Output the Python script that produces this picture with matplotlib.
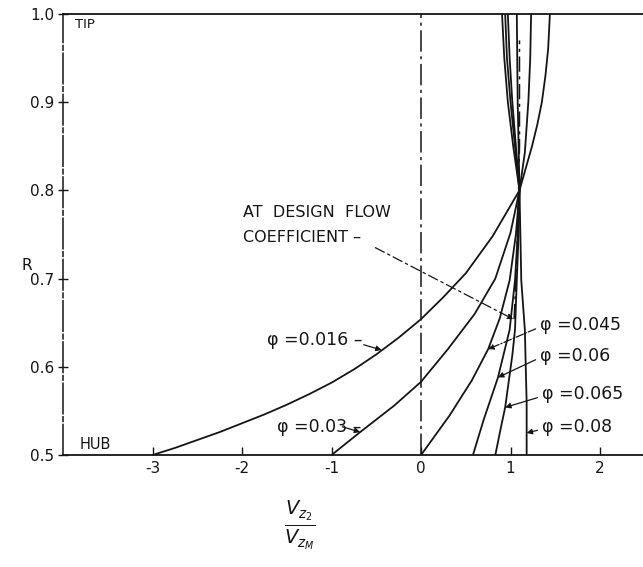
import matplotlib
matplotlib.use("Agg")
import matplotlib.pyplot as plt

plt.rcParams['font.family'] = ['DejaVu Sans']
plt.rcParams['mathtext.fontset'] = 'dejavusans'
INK = '#151515'

# velocity ratio Vz2/VzM against radius ratio R, hub (0.5) to tip (1.0)
r_016 = [0.500, 0.508, 0.517, 0.526, 0.536, 0.546, 0.557, 0.569, 0.582, 0.597, 0.614,
         0.633, 0.654, 0.679, 0.706, 0.748, 0.800, 0.825, 0.850, 0.875, 0.900, 0.930,
         0.960, 1.000]
v_016 = [-3.00, -2.75, -2.50, -2.25, -2.00, -1.75, -1.50, -1.25, -1.00, -0.75, -0.50,
         -0.25, 0.00, 0.25, 0.50, 0.80, 1.10, 1.17, 1.24, 1.30, 1.35, 1.39,
         1.42, 1.44]

r_030 = [0.500, 0.526, 0.556, 0.583, 0.620, 0.660, 0.700, 0.752, 0.800, 0.843, 0.902, 0.950, 1.000]
v_030 = [-1.00, -0.68, -0.30, 0.00, 0.30, 0.60, 0.83, 1.00, 1.10, 1.16, 1.20, 1.22, 1.23]

r_045 = [0.500, 0.545, 0.585, 0.620, 0.655, 0.698, 0.750, 0.800, 0.850, 0.900, 0.950, 1.000]
v_045 = [0.00, 0.32, 0.57, 0.75, 0.88, 0.99, 1.06, 1.10, 1.09, 1.08, 1.075, 1.07]

r_060 = [0.500, 0.540, 0.588, 0.613, 0.642, 0.698, 0.750, 0.800, 0.850, 0.900, 0.950, 1.000]
v_060 = [0.58, 0.70, 0.86, 0.92, 0.99, 1.05, 1.08, 1.10, 1.06, 1.02, 0.99, 0.97]

r_065 = [0.500, 0.530, 0.554, 0.613, 0.642, 0.698, 0.750, 0.800, 0.850, 0.900, 0.950, 1.000]
v_065 = [0.83, 0.89, 0.94, 1.02, 1.05, 1.07, 1.09, 1.10, 1.05, 1.00, 0.96, 0.94]

r_080 = [0.500, 0.560, 0.600, 0.642, 0.698, 0.750, 0.800, 0.850, 0.900, 0.950, 1.000]
v_080 = [1.18, 1.18, 1.17, 1.16, 1.12, 1.11, 1.10, 1.03, 0.97, 0.93, 0.905]

# design flow coefficient curve (dash-dot)
r_design = [0.654, 0.720, 0.800, 0.850, 0.900, 0.970]
v_design = [1.04, 1.07, 1.09, 1.10, 1.10, 1.10]

curves = [(v_016, r_016), (v_030, r_030), (v_045, r_045),
          (v_060, r_060), (v_065, r_065), (v_080, r_080)]

# label text, text position, arrow tip, leader style
phi_labels = [
    ('\u03c6 =0.016 \u2013', (-1.72, 0.630), (-0.44, 0.619), '-'),
    ('\u03c6 =0.03 \u2013', (-1.61, 0.532), (-0.68, 0.526), '-'),
    ('\u03c6 =0.045', (1.33, 0.647), (0.75, 0.620), '-.'),
    ('\u03c6 =0.06', (1.33, 0.612), (0.86, 0.588), '-'),
    ('\u03c6 =0.065', (1.35, 0.569), (0.94, 0.554), '-'),
    ('\u03c6 =0.08', (1.35, 0.532), (1.18, 0.525), '-'),
]

fig = plt.figure(figsize=(6.43, 5.67), dpi=100)
ax = fig.add_axes([0.098, 0.1975, 0.902, 0.778])

for v, r in curves:
    ax.plot(v, r, color=INK, lw=1.3, solid_capstyle='butt', solid_joinstyle='round')
ax.plot(v_design, r_design, color=INK, lw=1.1, linestyle=(0, (10, 3, 2, 3)))

# centre line at Vz2/VzM = 0
ax.axvline(0, color=INK, lw=1.1, linestyle=(0, (14, 3, 2, 3)))

for text, xy_text, xy_tip, ls in phi_labels:
    ax.text(xy_text[0], xy_text[1], text, fontsize=12.5, color=INK,
            va='center', ha='left')
    if text.endswith('\u2013'):
        tail = (xy_tip[0] - 0.2, xy_tip[1] + 0.006)
    else:
        tail = (xy_text[0] - 0.05, xy_text[1] - 0.004)
    ax.annotate('', xy=xy_tip, xytext=tail,
                arrowprops=dict(arrowstyle='-|>', color=INK, lw=0.9,
                                linestyle=ls, mutation_scale=8,
                                shrinkA=0, shrinkB=0))

ax.text(-1.99, 0.775, 'AT  DESIGN  FLOW', fontsize=11.5, color=INK, va='center')
ax.text(-1.99, 0.746, 'COEFFICIENT \u2013', fontsize=11.5, color=INK, va='center')
ax.annotate('', xy=(1.03, 0.654), xytext=(-0.51, 0.735),
            arrowprops=dict(arrowstyle='-|>', color=INK, lw=0.9,
                            linestyle=(0, (8, 3, 2, 3)), mutation_scale=8,
                            shrinkA=0, shrinkB=0))

ax.text(-3.87, 0.988, 'TIP', fontsize=9.5, color=INK, va='center')
ax.text(-3.81, 0.512, 'HUB', fontsize=10.5, color=INK, va='center')

ax.text(-4.40, 0.715, 'R', fontsize=11, color=INK, va='center', ha='center',
        clip_on=False)
ax.text(-1.35, 0.42, r'$\frac{V_{z_2}}{V_{z_M}}$', fontsize=20, color=INK,
        va='center', ha='center', clip_on=False)

ax.set_xlim(-4.0, 2.48)
ax.set_ylim(0.5, 1.0)
ax.set_xticks([-3, -2, -1, 0, 1, 2])
ax.set_xticklabels(['-3', '-2', '-1', '0', '1', '2'])
ax.set_yticks([0.5, 0.6, 0.7, 0.8, 0.9, 1.0])
ax.set_yticklabels(['0.5', '0.6', '0.7', '0.8', '0.9', '1.0'])
ax.tick_params(axis='x', direction='in', length=6, width=1, colors=INK,
               labelsize=11, pad=4)
ax.tick_params(axis='y', direction='inout', length=7, width=1, colors=INK,
               labelsize=11, pad=3)

ax.spines['right'].set_visible(False)
for side in ['top', 'bottom']:
    ax.spines[side].set_color(INK)
    ax.spines[side].set_linewidth(1.3)
ax.spines['left'].set_color(INK)
ax.spines['left'].set_linewidth(1.1)
ax.spines['left'].set_linestyle((0, (20, 2, 3, 2)))

fig.savefig('out.png', dpi=100)
